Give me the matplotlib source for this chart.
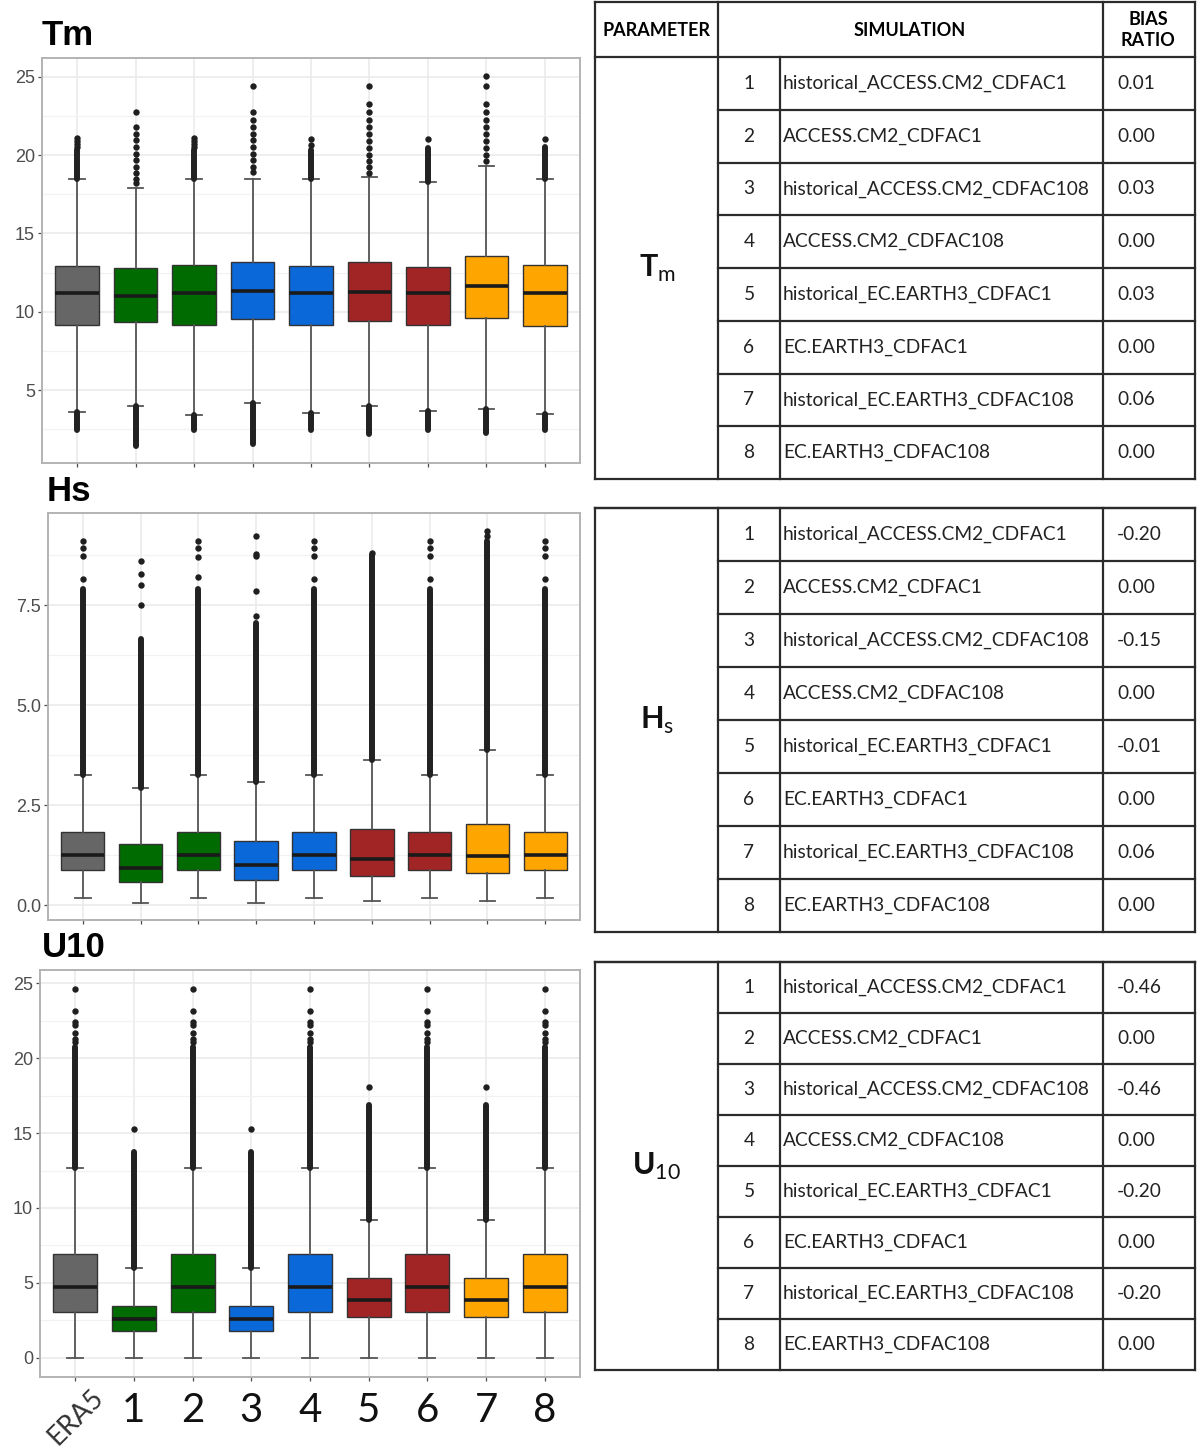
import numpy as np
import matplotlib
matplotlib.use("Agg")
from matplotlib import pyplot as plt

plt.rcParams['mathtext.fontset'] = 'custom'
plt.rcParams['mathtext.rm'] = 'Lato'
plt.rcParams['mathtext.bf'] = 'Lato:bold'

# =======================================================================================================================
# Data
categories = ['ERA5', '1', '2', '3', '4', '5', '6', '7', '8']
box_colors = ['#666666', '#006b00', '#006b00', '#0a68d8', '#0a68d8', '#a12525', '#a12525', '#ffa500', '#ffa500']

# Tm
tm_q1 = [9.17, 9.36, 9.17, 9.55, 9.17, 9.43, 9.17, 9.62, 9.10]
tm_med = [11.2, 11.0, 11.2, 11.3, 11.2, 11.27, 11.2, 11.66, 11.2]
tm_q3 = [12.93, 12.8, 13.0, 13.2, 12.9, 13.18, 12.87, 13.57, 13.0]
tm_whislo = [3.59, 4.0, 3.44, 4.18, 3.56, 3.97, 3.65, 3.82, 3.48]
tm_whishi = [18.5, 17.9, 18.5, 18.5, 18.5, 18.58, 18.3, 19.3, 18.5]
tm_dense_top = [20.3, None, 20.3, None, 20.3, None, 20.43, None, 20.5]
tm_dense_bottom = [2.44, 1.42, 2.44, 1.57, 2.44, 2.21, 2.44, 2.27, 2.44]
tm_outliers = [
    [20.5, 20.7, 20.9, 21.1],
    [18.2, 18.5, 18.83, 19.25, 19.68, 20.1, 20.53, 20.96, 21.38, 21.8, 22.76],
    [20.5, 20.7, 20.9, 21.1],
    [18.94, 19.25, 19.68, 20.1, 20.53, 20.96, 21.38, 21.8, 22.27, 22.76, 24.39],
    [20.64, 21.06],
    [18.87, 19.22, 19.62, 20.04, 20.47, 20.89, 21.34, 21.8, 22.27, 22.76, 23.29, 24.41],
    [21.06],
    [19.62, 20.04, 20.47, 20.89, 21.34, 21.8, 22.27, 22.76, 23.29, 24.41, 25.05],
    [21.0],
]

# Hs
hs_q1 = [0.875, 0.58, 0.875, 0.625, 0.875, 0.73, 0.875, 0.79, 0.875]
hs_med = [1.25, 0.93, 1.25, 1.0, 1.25, 1.14, 1.25, 1.22, 1.25]
hs_q3 = [1.83, 1.52, 1.83, 1.61, 1.83, 1.89, 1.83, 2.03, 1.83]
hs_whislo = [0.17, 0.06, 0.17, 0.06, 0.17, 0.10, 0.17, 0.10, 0.17]
hs_whishi = [3.25, 2.93, 3.25, 3.08, 3.25, 3.62, 3.25, 3.88, 3.25]
hs_dense_top = [7.9, 6.65, 7.9, 7.04, 7.9, 8.75, 7.9, 9.1, 7.9]
hs_outliers = [
    [8.14, 8.72, 8.93, 9.1],
    [7.5, 8.0, 8.28, 8.61],
    [8.19, 8.71, 8.92, 9.11],
    [7.23, 7.85, 8.72, 8.78, 9.22],
    [8.14, 8.72, 8.93, 9.1],
    [8.8],
    [8.14, 8.72, 8.93, 9.1],
    [9.22, 9.35],
    [8.14, 8.72, 8.93, 9.1],
]

# U10
u10_q1 = [3.04, 1.8, 3.04, 1.8, 3.04, 2.71, 3.04, 2.71, 3.04]
u10_med = [4.73, 2.58, 4.73, 2.58, 4.73, 3.85, 4.73, 3.85, 4.73]
u10_q3 = [6.91, 3.49, 6.91, 3.49, 6.91, 5.31, 6.91, 5.31, 6.91]
u10_whislo = [0.0, 0.0, 0.0, 0.0, 0.0, 0.0, 0.0, 0.0, 0.0]
u10_whishi = [12.69, 5.98, 12.69, 5.98, 12.69, 9.2, 12.69, 9.2, 12.69]
u10_dense_top = [20.76, 13.76, 20.76, 13.76, 20.76, 16.87, 20.76, 16.87, 20.76]
u10_outliers = [
    [21.1, 21.3, 21.69, 22.2, 22.4, 23.16, 24.58],
    [15.27],
    [21.1, 21.3, 21.69, 22.2, 22.4, 23.16, 24.58],
    [15.27],
    [21.1, 21.3, 21.69, 22.2, 22.4, 23.16, 24.58],
    [18.09],
    [21.1, 21.3, 21.69, 22.2, 22.4, 23.16, 24.58],
    [18.09],
    [21.1, 21.3, 21.69, 22.2, 22.4, 23.16, 24.58],
]

# Table
sim_ids = [1, 2, 3, 4, 5, 6, 7, 8]
sim_names = ['historical_ACCESS.CM2_CDFAC1', 'ACCESS.CM2_CDFAC1', 'historical_ACCESS.CM2_CDFAC108',
             'ACCESS.CM2_CDFAC108', 'historical_EC.EARTH3_CDFAC1', 'EC.EARTH3_CDFAC1',
             'historical_EC.EARTH3_CDFAC108', 'EC.EARTH3_CDFAC108']
tm_bias = [0.01, 0.00, 0.03, 0.00, 0.03, 0.00, 0.06, 0.00]
hs_bias = [-0.20, 0.00, -0.15, 0.00, -0.01, 0.00, 0.06, 0.00]
u10_bias = [-0.46, 0.00, -0.46, 0.00, -0.20, 0.00, -0.20, 0.00]

# =======================================================================================================================
W, H = 1200, 1451
fig = plt.figure(figsize=(W / 100, H / 100), dpi=100)


def px_axes(left, top, right, bottom):
    return fig.add_axes([left / W, 1 - bottom / H, (right - left) / W, (bottom - top) / H])


def boxpanel(ax, q1, med, q3, lo, hi, dense_top, dense_bottom, outliers, ylim, major, minor, fmt):
    pos = np.arange(1, len(categories) + 1)
    stats = [dict(med=m, q1=a, q3=b, whislo=l, whishi=h, fliers=[])
             for a, m, b, l, h in zip(q1, med, q3, lo, hi)]
    bp = ax.bxp(stats, positions=pos, widths=0.75, patch_artist=True, showfliers=False, capwidths=0.27,
                boxprops=dict(edgecolor='#333333', linewidth=1.0),
                medianprops=dict(color='#1a1a1a', linewidth=2.6),
                whiskerprops=dict(color='#555555', linewidth=1.3),
                capprops=dict(color='#555555', linewidth=1.3))
    for patch, c in zip(bp['boxes'], box_colors):
        patch.set_facecolor(c)
    for i, p in enumerate(pos):
        if dense_top is not None and dense_top[i] is not None:
            ax.plot([p, p], [hi[i], dense_top[i]], color='#222222', lw=4.3, solid_capstyle='round', zorder=3)
        if dense_bottom is not None:
            ax.plot([p, p], [dense_bottom[i], lo[i]], color='#222222', lw=4.3, solid_capstyle='round', zorder=3)
        ax.plot([p] * len(outliers[i]), outliers[i], 'o', ms=4.6, color='#1f1f1f', mec='none', zorder=3)
    ax.set_xlim(0.4, 9.6)
    ax.set_ylim(*ylim)
    ax.set_yticks(major)
    ax.set_yticklabels([fmt.format(v) for v in major])
    ax.set_yticks(minor, minor=True)
    ax.set_xticks(pos)
    ax.set_xticklabels([])
    ax.grid(True, which='major', color='#ebebeb', lw=1.2)
    ax.grid(True, which='minor', axis='y', color='#f2f2f2', lw=0.9)
    ax.set_axisbelow(True)
    for s in ax.spines.values():
        s.set_color('#b3b3b3')
        s.set_linewidth(1.4)
    ax.tick_params(which='major', color='#4d4d4d', length=3, width=0.9, labelcolor='#4d4d4d',
                   labelsize=13, pad=2)
    ax.tick_params(which='minor', length=0)
    for lab in ax.get_yticklabels():
        lab.set_family('Liberation Sans')


ax_tm = px_axes(42, 58, 580, 463)
boxpanel(ax_tm, tm_q1, tm_med, tm_q3, tm_whislo, tm_whishi, tm_dense_top, tm_dense_bottom, tm_outliers,
         (0.35, 26.2), [5, 10, 15, 20, 25], [2.5, 7.5, 12.5, 17.5, 22.5], '{:.0f}')

ax_hs = px_axes(48, 513, 580, 920)
boxpanel(ax_hs, hs_q1, hs_med, hs_q3, hs_whislo, hs_whishi, hs_dense_top, None, hs_outliers,
         (-0.375, 9.8), [0, 2.5, 5, 7.5], [1.25, 3.75, 6.25, 8.75], '{:.1f}')

ax_u = px_axes(40, 970, 580, 1377)
boxpanel(ax_u, u10_q1, u10_med, u10_q3, u10_whislo, u10_whishi, u10_dense_top, None, u10_outliers,
         (-1.27, 25.87), [0, 5, 10, 15, 20, 25], [2.5, 7.5, 12.5, 17.5, 22.5], '{:.0f}')

# x labels of bottom panel
xt = ax_u.get_xaxis_transform()
for i, lab in enumerate(categories):
    if i == 0:
        ax_u.text(i + 1.27, -0.018, lab, transform=xt, rotation=45, ha='right', va='top',
                  rotation_mode='anchor', fontsize=19.5, family='Lato', color='#333333')
    else:
        ax_u.text(i + 1, -0.083, lab, transform=xt, ha='center', va='center', fontsize=29,
                  family='Lato', color='#111111')

# =======================================================================================================================
# Overlay in pixel coords: panel titles and tables
ov = fig.add_axes([0, 0, 1, 1])
ov.set_xlim(0, W)
ov.set_ylim(H, 0)
ov.axis('off')

for txt, x, y in [('Tm', 42, 45), ('Hs', 47, 501), ('U10', 42, 957)]:
    ov.text(x, y, txt, fontsize=25, fontweight='bold', family='Liberation Sans', va='baseline', ha='left')

col_x = [595, 718, 780, 1103, 1195]
line_kw = dict(color='#2b2b2b', lw=1.6)


def table(top, rows_top, bottom, label, bias):
    ov.plot([col_x[0], col_x[-1]], [top, top], **line_kw)
    ov.plot([col_x[0], col_x[-1]], [bottom, bottom], **line_kw)
    ov.plot([col_x[0], col_x[-1]], [rows_top, rows_top], **line_kw)
    for x in (col_x[0], col_x[1], col_x[3], col_x[4]):
        ov.plot([x, x], [top, bottom], **line_kw)
    ov.plot([col_x[2], col_x[2]], [rows_top, bottom], **line_kw)
    h = (bottom - rows_top) / len(sim_ids)
    for i in range(1, len(sim_ids)):
        y = rows_top + i * h
        ov.plot([col_x[1], col_x[-1]], [y, y], **line_kw)
    for i, (n, name, b) in enumerate(zip(sim_ids, sim_names, bias)):
        yc = rows_top + (i + 0.5) * h
        ov.text(749, yc, str(n), ha='center', va='center', fontsize=13.8, family='Lato', color='#222222')
        ov.text(783, yc, name, ha='left', va='center', fontsize=13.8, family='Lato', color='#222222')
        ov.text(1117, yc, f'{b:.2f}', ha='left', va='center', fontsize=13.8, family='Lato', color='#222222')
    ov.text(657, (rows_top + bottom) / 2, label, ha='center', va='center', fontsize=22, color='#111111')


# header of first table
ov.text(657, 30, 'PARAMETER', ha='center', va='center', fontsize=13, fontweight='bold', family='Lato')
ov.text(910, 30, 'SIMULATION', ha='center', va='center', fontsize=13, fontweight='bold', family='Lato')
ov.text(1148, 30, 'BIAS\nRATIO', ha='center', va='center', fontsize=13, fontweight='bold', family='Lato',
        linespacing=1.25)

table(2, 57, 479, r'$\mathbf{T}_\mathrm{m}$', tm_bias)
table(508, 508, 932, r'$\mathbf{H}_\mathrm{s}$', hs_bias)
table(962, 962, 1370, r'$\mathbf{U}_\mathrm{10}$', u10_bias)

fig.savefig('out.png', dpi=100, facecolor='white')
